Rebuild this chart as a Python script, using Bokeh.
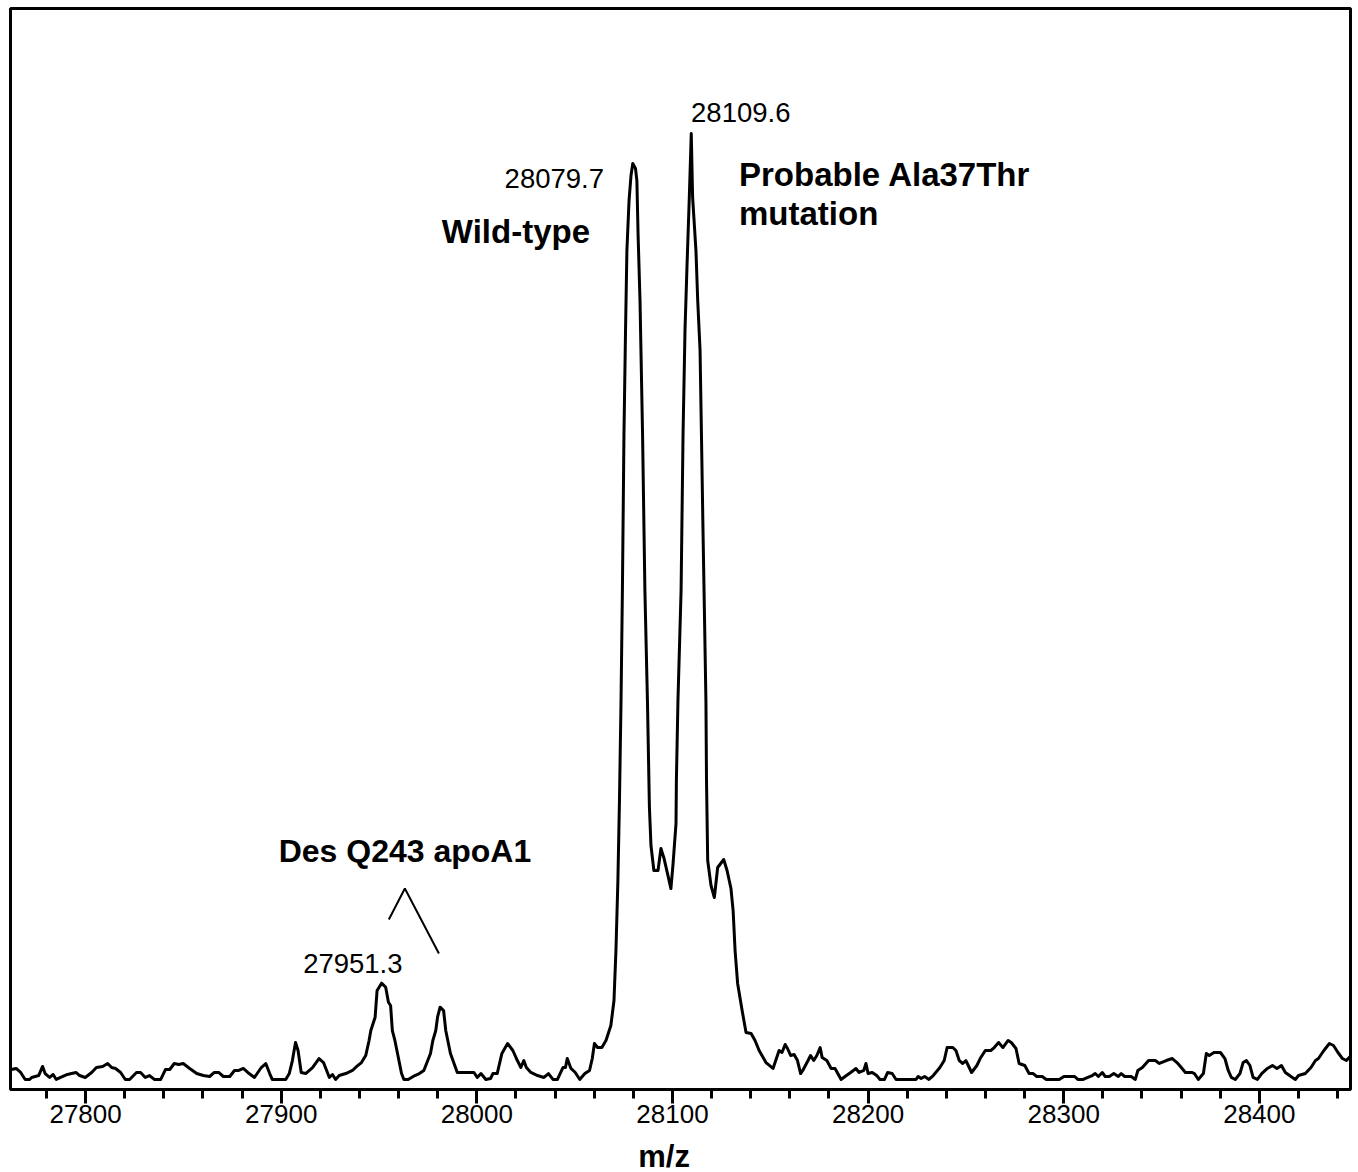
from bokeh.plotting import figure
from bokeh.models import Range1d, SingleIntervalTicker, Label
from bokeh.layouts import column
from bokeh.core.properties import value
from bokeh.embed import file_html
from bokeh.resources import INLINE

# m/z axis values of the traced spectrum
mz = [27762.1, 27764.5, 27766.8, 27769.1, 27771.4, 27772.4, 27776.0, 27778.0, 27779.3, 27781.6,
      27783.4, 27785.0, 27787.2, 27790.7, 27792.8, 27795.2, 27796.9, 27799.8, 27803.1, 27805.5,
      27808.7, 27811.3, 27813.3, 27815.3, 27817.9, 27820.3, 27822.5, 27826.0, 27828.1, 27830.5,
      27832.7, 27835.1, 27838.4, 27840.8, 27843.0, 27845.3, 27847.6, 27849.9, 27853.2, 27856.8,
      27860.2, 27863.4, 27865.8, 27868.0, 27870.4, 27873.7, 27876.1, 27878.3, 27880.6, 27882.9,
      27886.3, 27889.8, 27892.1, 27894.1, 27895.4, 27902.3, 27904.1, 27905.7, 27907.3, 27908.6,
      27910.2, 27912.5, 27916.0, 27919.3, 27921.6, 27924.6, 27926.2, 27927.8, 27929.6, 27933.0,
      27936.4, 27938.6, 27941.0, 27943.2, 27944.9, 27945.8, 27948.0, 27949.0, 27951.3, 27953.4,
      27954.8, 27955.9, 27956.8, 27958.1, 27961.5, 27962.7, 27964.9, 27968.3, 27970.6, 27972.9,
      27976.3, 27977.5, 27979.0, 27979.9, 27981.2, 27983.0, 27984.1, 27986.5, 27990.0, 27995.7,
      27998.5, 28000.2, 28002.1, 28004.6, 28007.0, 28008.2, 28010.4, 28012.8, 28015.7, 28018.4,
      28020.7, 28022.5, 28024.0, 28025.3, 28027.6, 28031.0, 28034.3, 28036.6, 28038.9, 28041.2,
      28044.0, 28045.3, 28046.2, 28048.1, 28050.3, 28052.6, 28055.2, 28057.6, 28059.0, 28060.1,
      28061.7, 28063.9, 28066.0, 28068.5, 28070.1, 28071.1, 28072.1, 28072.9, 28073.7, 28074.4,
      28075.2, 28076.0, 28076.7, 28077.8, 28078.8, 28079.7, 28081.1, 28081.8, 28082.4, 28083.4,
      28084.7, 28085.9, 28087.2, 28088.2, 28089.0, 28090.5, 28092.6, 28094.1, 28095.7, 28097.7,
      28099.2, 28100.3, 28101.8, 28102.0, 28102.8, 28104.4, 28105.4, 28106.4, 28107.4, 28108.6,
      28109.6, 28110.3, 28112.0, 28112.9, 28114.1, 28114.8, 28115.6, 28116.4, 28117.1, 28117.4,
      28118.0, 28119.7, 28121.4, 28123.1, 28126.2, 28127.9, 28129.9, 28131.0, 28132.0, 28133.3,
      28135.6, 28137.6, 28140.2, 28142.2, 28144.3, 28147.8, 28151.4, 28154.5, 28156.0, 28157.6,
      28158.8, 28160.4, 28162.2, 28163.9, 28165.5, 28166.6, 28169.3, 28170.6, 28172.2, 28173.8,
      28175.5, 28176.5, 28178.9, 28181.1, 28183.1, 28186.2, 28188.2, 28191.1, 28193.8, 28195.4,
      28197.8, 28198.9, 28200.0, 28202.1, 28204.4, 28206.1, 28208.4, 28210.0, 28212.3, 28214.3,
      28224.5, 28225.6, 28227.1, 28228.9, 28231.1, 28233.3, 28236.7, 28238.9, 28240.4, 28243.3,
      28244.9, 28246.6, 28248.4, 28250.0, 28251.2, 28252.9, 28255.6, 28257.3, 28259.9, 28262.7,
      28264.5, 28266.7, 28268.9, 28271.6, 28273.2, 28275.6, 28277.2, 28280.1, 28282.3, 28284.4,
      28286.2, 28289.0, 28291.1, 28297.7, 28300.1, 28303.3, 28305.6, 28307.2, 28310.0, 28312.3,
      28314.6, 28316.1, 28317.7, 28319.7, 28321.2, 28323.3, 28325.6, 28327.9, 28329.4, 28331.2,
      28334.5, 28336.6, 28337.9, 28340.2, 28343.4, 28346.8, 28348.9, 28352.4, 28355.5, 28357.9,
      28360.1, 28362.2, 28365.7, 28366.8, 28368.8, 28371.4, 28372.9, 28374.4, 28376.8, 28380.1,
      28382.4, 28384.1, 28385.7, 28387.7, 28390.1, 28391.7, 28393.4, 28395.2, 28396.8, 28399.0,
      28401.2, 28404.1, 28406.7, 28409.0, 28411.3, 28413.3, 28416.9, 28418.4, 28420.0, 28423.5,
      28426.4, 28428.7, 28430.2, 28433.0, 28435.8, 28437.9, 28440.2, 28442.5, 28444.5, 28446.4]

# relative intensity (%) of the traced spectrum
intensity = [2.09, 2.20, 1.78, 1.05, 1.05, 1.26, 1.46, 2.41, 1.67, 1.26,
             1.57, 1.05, 1.26, 1.57, 1.67, 1.78, 1.46, 1.26, 1.78, 2.30,
             2.41, 2.72, 2.30, 2.20, 1.78, 1.05, 1.05, 1.78, 1.78, 1.26,
             1.46, 1.05, 1.05, 2.09, 2.09, 2.72, 2.62, 2.72, 2.20, 1.67,
             1.46, 1.36, 1.78, 1.78, 1.36, 1.36, 1.99, 1.99, 2.20, 1.78,
             1.26, 2.30, 2.72, 1.67, 1.05, 1.05, 1.67, 3.03, 4.92, 4.08,
             1.78, 1.67, 2.30, 3.24, 2.82, 1.26, 1.57, 1.05, 1.46, 1.67,
             1.99, 2.41, 2.82, 3.56, 5.13, 6.17, 7.56, 10.36, 11.12, 10.70,
             9.13, 8.79, 6.17, 5.13, 1.67, 1.05, 1.05, 1.46, 1.67, 1.99,
             3.77, 5.13, 6.17, 7.56, 8.61, 8.26, 6.17, 3.77, 1.78, 1.78,
             1.78, 1.26, 1.67, 1.05, 1.15, 1.67, 1.67, 3.77, 4.81, 4.08,
             3.03, 2.30, 3.03, 2.30, 1.78, 1.46, 1.26, 1.67, 1.05, 1.05,
             2.30, 2.30, 3.24, 2.20, 1.78, 1.05, 1.67, 1.99, 3.24, 4.81,
             4.39, 4.39, 5.13, 6.69, 9.31, 14.54, 21.86, 30.23, 40.69, 52.20,
             68.62, 79.39, 87.76, 92.99, 95.61, 96.86, 96.34, 95.08, 89.54, 82.53,
             68.62, 52.20, 40.69, 29.60, 25.52, 22.91, 22.91, 25.21, 24.16, 22.38,
             21.02, 23.64, 27.82, 32.32, 40.69, 52.20, 68.62, 79.39, 85.98, 93.31,
             100.0, 93.31, 87.76, 82.53, 77.30, 68.62, 58.47, 49.06, 40.69, 32.32,
             23.95, 21.34, 20.08, 23.22, 24.06, 22.91, 21.02, 18.72, 14.54, 11.09,
             8.26, 5.96, 5.86, 5.13, 4.08, 2.82, 2.20, 4.08, 3.87, 4.71,
             4.29, 3.56, 3.66, 3.03, 1.67, 1.99, 3.03, 3.56, 3.03, 3.56,
             4.39, 3.35, 3.03, 2.20, 2.20, 1.05, 1.36, 1.78, 2.20, 1.78,
             1.99, 2.72, 1.67, 1.78, 1.46, 1.05, 1.05, 1.78, 1.67, 1.05,
             1.05, 1.36, 1.15, 1.36, 1.05, 1.46, 2.30, 3.03, 4.39, 4.39,
             4.08, 3.03, 2.72, 3.03, 2.51, 1.78, 2.51, 3.24, 4.08, 4.08,
             4.39, 4.92, 4.39, 5.13, 4.92, 4.29, 2.72, 2.51, 1.67, 1.67,
             1.36, 1.36, 1.05, 1.05, 1.36, 1.36, 1.36, 1.05, 1.05, 1.26,
             1.46, 1.67, 1.36, 1.78, 1.36, 1.36, 1.67, 1.36, 1.67, 1.36,
             1.36, 1.05, 1.99, 2.30, 3.03, 3.03, 2.72, 3.03, 3.24, 2.82,
             2.30, 1.78, 1.78, 1.67, 1.05, 1.67, 3.77, 3.56, 3.87, 3.87,
             3.24, 1.99, 1.26, 1.05, 1.67, 2.82, 3.03, 2.51, 1.26, 1.05,
             1.67, 2.20, 2.51, 2.20, 2.51, 1.78, 1.26, 1.05, 1.46, 1.67,
             2.30, 3.03, 3.24, 4.08, 4.81, 4.60, 3.87, 3.24, 3.03, 3.45]

# annotations: peak masses (regular) and assignments (bold)
mass_text = ["28109.6", "28079.7", "27951.3"]
mass_x = [28109.5, 28065.0, 27936.6]
mass_y = [102.2, 95.3, 13.2]
mass_align = ["left", "right", "center"]

name_text = ["Wild-type", "Probable Ala37Thr", "mutation", "Des Q243 apoA1"]
name_x = [27982.1, 28134.0, 28134.0, 27898.7]
name_y = [89.75, 95.7, 91.6, 24.9]
name_size = ["33px", "33px", "33px", "32px"]

# leader lines for the Des Q243 pair
leader_x = [27955.0, 27963.2, 27980.6]
leader_y = [17.78, 21.03, 14.23]

# axis title, centred under the frame (drawn in a strip below the axis)
axis_title = ["m/z"]
axis_title_x = [28095.7]
axis_title_y = [16.5]

FONT = "Liberation Sans"
X_RANGE = Range1d(27761.6, 28446.6)

p = figure(width=1352, height=1139, output_backend="svg", toolbar_location=None,
           x_range=X_RANGE, y_range=Range1d(0, 113.08),
           y_axis_location=None, min_border_left=10, min_border_right=2,
           min_border_top=8, min_border_bottom=50)
p.xgrid.visible = False
p.ygrid.visible = False
p.outline_line_color = "black"
p.outline_line_width = 3
p.background_fill_color = "white"
p.border_fill_color = "white"

p.line(mz, intensity, line_color="black", line_width=3, line_join="round")
p.line(leader_x, leader_y, line_color="black", line_width=2)

ax = p.xaxis[0]
ax.ticker = SingleIntervalTicker(interval=100, num_minor_ticks=5)
ax.axis_line_width = 3
ax.axis_line_color = "black"
ax.major_tick_line_width = 3
ax.minor_tick_line_width = 3
ax.major_tick_line_color = "black"
ax.minor_tick_line_color = "black"
ax.major_tick_in = 0
ax.major_tick_out = 14
ax.minor_tick_in = 0
ax.minor_tick_out = 9
ax.major_label_text_font = FONT
ax.major_label_text_font_size = "26px"
ax.major_label_text_color = "black"
ax.major_label_standoff = 1

for t, x, y, a in zip(mass_text, mass_x, mass_y, mass_align):
    p.add_layout(Label(x=x, y=y, text=t, text_align=a, text_baseline="middle",
                       text_font=FONT, text_font_size="27.5px", text_color="black"))

for t, x, y, s in zip(name_text, name_x, name_y, name_size):
    p.add_layout(Label(x=x, y=y, text=t, text_align="left", text_baseline="middle",
                       text_font=FONT, text_font_size=s, text_font_style="bold",
                       text_color="black"))

# strip under the axis carrying the axis title
q = figure(width=1352, height=33, output_backend="svg", toolbar_location=None,
           x_range=X_RANGE, y_range=Range1d(0, 33),
           x_axis_location=None, y_axis_location=None,
           min_border_left=10, min_border_right=2, min_border_top=0, min_border_bottom=0)
q.title.visible = False
q.xgrid.visible = False
q.ygrid.visible = False
q.outline_line_color = None
q.background_fill_color = "white"
q.border_fill_color = "white"
q.text(x=axis_title_x, y=axis_title_y, text=axis_title, text_align="center",
       text_baseline="middle", text_font=value(FONT), text_font_size="31px",
       text_font_style="bold", text_color="black")

layout = column(p, q, spacing=0)
open("out.html", "w").write(file_html(layout, INLINE))
